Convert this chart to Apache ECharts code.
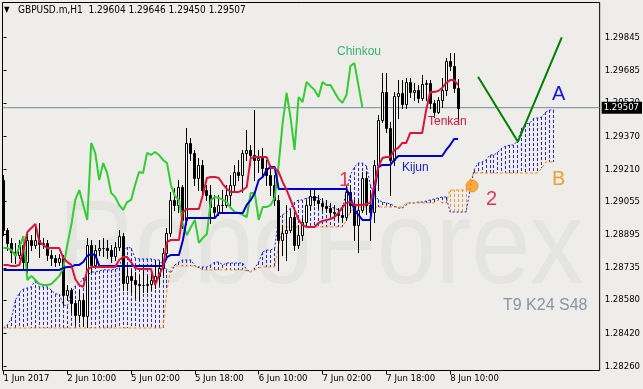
<!DOCTYPE html>
<html><head><meta charset="utf-8">
<script src="https://cdn.jsdelivr.net/npm/echarts@6/dist/echarts.min.js"></script>
<style>html,body{margin:0;padding:0;background:#eeede9;}#c{width:643px;height:389px;}</style>
</head><body><div id="c"></div>
<script>
// ---------------- DATA ----------------
const symbolTitle = 'GBPUSD.m,H1  1.29604 1.29646 1.29450 1.29507';
const xTickLabels = ['1 Jun 2017','2 Jun 10:00','5 Jun 02:00','5 Jun 18:00','6 Jun 10:00','7 Jun 02:00','7 Jun 18:00','8 Jun 10:00'];
const barsPerXTick = 16;
const yTickLabels = ['1.28260','1.28420','1.28580','1.28735','1.28895','1.29055','1.29210','1.29370','1.29530','1.29685','1.29845'];
const lastPrice = 1.29507;

const candleOpen = [
1.29158,1.28917,1.28855,1.28811,1.28797,1.28845,1.28763,1.28869,1.28845,1.28869,
1.28850,1.28855,1.28797,1.28782,1.28763,1.28782,1.28604,1.28628,1.28566,1.28508,
1.28580,1.28503,1.28845,1.28749,1.28821,1.28830,1.28830,1.28821,1.28792,1.28835,
1.28888,1.28662,1.28696,1.28676,1.28657,1.28652,1.28654,1.28657,1.28676,1.28696,
1.28734,1.28807,1.28903,1.29062,1.29038,1.29125,1.28966,1.29337,1.29289,1.29168,
1.29231,1.29110,1.29086,1.29028,1.29004,1.29038,1.29040,1.29086,1.29134,1.29197,
1.29183,1.29289,1.29303,1.29279,1.29255,1.29264,1.29216,1.29183,1.29134,1.29062,
1.28869,1.28903,1.28917,1.28980,1.28845,1.28893,1.28956,1.29038,1.29081,1.29062,
1.29048,1.29033,1.29023,1.29004,1.28999,1.28990,1.28980,1.29101,1.29038,1.28941,
1.29014,1.29168,1.29038,1.29004,1.29231,1.29448,1.29583,1.29409,1.29255,1.29563,
1.29578,1.29525,1.29631,1.29583,1.29592,1.29554,1.29621,1.29626,1.29530,1.29486,
1.29544,1.29592,1.29732,1.29708,1.29604];
const candleHigh = [
1.29183,1.28927,1.28879,1.28855,1.28869,1.28888,1.28908,1.28893,1.28941,1.28951,
1.28879,1.28869,1.28821,1.28797,1.28802,1.28797,1.28652,1.28638,1.28580,1.28628,
1.28604,1.28879,1.28869,1.28845,1.28869,1.28879,1.28869,1.28845,1.28860,1.28917,
1.28903,1.28734,1.28725,1.28715,1.28700,1.28749,1.28696,1.28715,1.28773,1.28763,
1.28830,1.28927,1.29101,1.29120,1.29158,1.29134,1.29409,1.29361,1.29303,1.29264,
1.29255,1.29134,1.29134,1.29086,1.29086,1.29110,1.29134,1.29183,1.29231,1.29255,
1.29303,1.29399,1.29327,1.29496,1.29303,1.29313,1.29255,1.29231,1.29183,1.29086,
1.28941,1.29038,1.29014,1.29004,1.28941,1.28975,1.29062,1.29110,1.29110,1.29086,
1.29072,1.29062,1.29048,1.29038,1.29023,1.29038,1.29130,1.29134,1.29062,1.29062,
1.29197,1.29197,1.29110,1.29255,1.29472,1.29674,1.29674,1.29438,1.29583,1.29640,
1.29640,1.29650,1.29650,1.29626,1.29616,1.29665,1.29640,1.29640,1.29544,1.29558,
1.29650,1.29746,1.29771,1.29771,1.29646];
const candleLow = [
1.28893,1.28821,1.28763,1.28758,1.28782,1.28734,1.28715,1.28821,1.28830,1.28787,
1.28830,1.28773,1.28749,1.28744,1.28749,1.28556,1.28580,1.28522,1.28460,1.28474,
1.28455,1.28450,1.28715,1.28734,1.28797,1.28792,1.28782,1.28763,1.28773,1.28821,
1.28628,1.28628,1.28619,1.28590,1.28580,1.28619,1.28619,1.28628,1.28638,1.28652,
1.28700,1.28792,1.28888,1.29014,1.29004,1.28927,1.28946,1.29255,1.29134,1.29110,
1.29086,1.29062,1.28951,1.28975,1.28990,1.28999,1.29028,1.29038,1.29110,1.29158,
1.29101,1.29255,1.29231,1.29158,1.29197,1.29183,1.29134,1.29086,1.29038,1.28725,
1.28797,1.28773,1.28908,1.28821,1.28830,1.28869,1.28941,1.29014,1.29038,1.29023,
1.29014,1.29004,1.28985,1.28975,1.28966,1.28956,1.28966,1.29004,1.28869,1.28811,
1.29004,1.28995,1.28869,1.28956,1.29110,1.29438,1.29390,1.29086,1.29231,1.29457,
1.29505,1.29505,1.29558,1.29544,1.29534,1.29544,1.29544,1.29505,1.29462,1.29481,
1.29510,1.29568,1.29689,1.29583,1.29450];
const candleClose = [
1.28917,1.28855,1.28811,1.28797,1.28845,1.28763,1.28869,1.28845,1.28869,1.28850,
1.28855,1.28797,1.28782,1.28763,1.28782,1.28604,1.28628,1.28566,1.28508,1.28580,
1.28503,1.28845,1.28749,1.28821,1.28830,1.28832,1.28821,1.28792,1.28835,1.28888,
1.28662,1.28696,1.28676,1.28657,1.28652,1.28654,1.28657,1.28676,1.28696,1.28734,
1.28807,1.28903,1.29062,1.29038,1.29125,1.28966,1.29337,1.29289,1.29168,1.29231,
1.29110,1.29086,1.29028,1.29004,1.29038,1.29040,1.29086,1.29134,1.29197,1.29183,
1.29289,1.29303,1.29279,1.29255,1.29264,1.29216,1.29183,1.29134,1.29062,1.28869,
1.28903,1.28917,1.28980,1.28845,1.28893,1.28956,1.29038,1.29081,1.29062,1.29048,
1.29033,1.29023,1.29004,1.28999,1.28990,1.28980,1.29101,1.29038,1.28941,1.29014,
1.29168,1.29038,1.29004,1.29231,1.29448,1.29583,1.29409,1.29255,1.29563,1.29578,
1.29525,1.29631,1.29583,1.29592,1.29554,1.29621,1.29626,1.29530,1.29486,1.29544,
1.29592,1.29732,1.29708,1.29604,1.29507];

const tenkan = [
1.28749,1.28749,1.28744,1.28744,1.28749,1.28821,1.28908,1.28927,1.28946,1.28860,
1.28845,1.28830,1.28830,1.28830,1.28830,1.28782,1.28763,1.28749,1.28681,1.28652,
1.28643,1.28725,1.28739,1.28739,1.28739,1.28739,1.28739,1.28739,1.28739,1.28773,
1.28787,1.28787,1.28763,1.28734,1.28729,1.28729,1.28729,1.28729,1.28652,1.28700,
1.28739,1.28860,1.28869,1.28869,1.28869,1.29004,1.29019,1.29019,1.29019,1.29019,
1.29086,1.29168,1.29173,1.29173,1.29168,1.29139,1.29115,1.29101,1.29101,1.29101,
1.29110,1.29125,1.29264,1.29269,1.29269,1.29269,1.29269,1.29216,1.29216,1.29197,
1.29149,1.29110,1.29062,1.29014,1.28966,1.28941,1.28932,1.28932,1.28932,1.28951,
1.28961,1.28966,1.28970,1.28980,1.28999,1.29028,1.29048,1.29052,1.29038,1.29038,
1.29038,1.29043,1.29048,1.29134,1.29221,1.29264,1.29269,1.29269,1.29303,1.29313,
1.29337,1.29337,1.29385,1.29385,1.29385,1.29385,1.29496,1.29583,1.29583,1.29587,
1.29602,1.29626,1.29640,1.29640,1.29616];
const kijun = [
1.28725,1.28725,1.28725,1.28725,1.28725,1.28725,1.28725,1.28725,1.28725,1.28725,
1.28725,1.28725,1.28725,1.28725,1.28725,1.28734,1.28739,1.28739,1.28749,1.28749,
1.28763,1.28792,1.28802,1.28797,1.28744,1.28744,1.28744,1.28744,1.28744,1.28744,
1.28744,1.28744,1.28744,1.28744,1.28744,1.28744,1.28744,1.28744,1.28744,1.28744,
1.28744,1.28787,1.28797,1.28797,1.28797,1.28869,1.28975,1.28975,1.28975,1.28975,
1.28975,1.28975,1.28975,1.28975,1.28999,1.28999,1.28999,1.28999,1.28999,1.28999,
1.28999,1.29038,1.29062,1.29096,1.29158,1.29173,1.29207,1.29221,1.29221,1.29115,
1.29115,1.29115,1.29115,1.29115,1.29115,1.29115,1.29115,1.29115,1.29115,1.29115,
1.29115,1.29115,1.29115,1.29115,1.29115,1.29115,1.29115,1.29076,1.29014,1.28990,
1.28966,1.28966,1.28966,1.29110,1.29221,1.29231,1.29231,1.29231,1.29255,1.29274,
1.29274,1.29274,1.29274,1.29274,1.29274,1.29274,1.29274,1.29274,1.29274,1.29274,
1.29274,1.29303,1.29327,1.29356,1.29356];
const chinkou = [
1.28830,1.28830,1.28821,1.28792,1.28835,1.28888,1.28676,1.28696,1.28676,1.28657,
1.28652,1.28652,1.28657,1.28676,1.28696,1.28734,1.28845,1.28941,1.29062,1.29110,
1.29038,1.28966,1.29337,1.29289,1.29158,1.29240,1.29192,1.29096,1.29076,1.29038,
1.29014,1.29052,1.29062,1.29134,1.29197,1.29192,1.29289,1.29279,1.29293,1.29279,
1.29255,1.29240,1.29134,1.29081,1.29062,1.28941,1.28893,1.28932,1.28966,1.28855,
1.28879,1.28898,1.29062,1.29076,1.29072,1.29062,1.29052,1.29023,1.29004,1.28999,
1.28990,1.28980,1.29096,1.29096,1.28966,1.29028,1.29028,1.29038,1.29072,1.29231,
1.29433,1.29578,1.29457,1.29303,1.29558,1.29534,1.29631,1.29611,1.29592,1.29558,
1.29631,1.29616,1.29616,1.29583,1.29549,1.29530,1.29568,1.29708,1.29722,1.29616,1.29507];
const senkouA = [
1.28445,1.28460,1.28493,1.28580,1.28614,1.28633,1.28638,1.28643,1.28676,1.28643,
1.28643,1.28643,1.28628,1.28609,1.28609,1.28556,1.28551,1.28614,1.28648,1.28657,
1.28686,1.28696,1.28715,1.28715,1.28720,1.28725,1.28725,1.28725,1.28729,1.28734,
1.28811,1.28835,1.28830,1.28782,1.28778,1.28778,1.28778,1.28778,1.28773,1.28773,
1.28749,1.28725,1.28710,1.28749,1.28763,1.28773,1.28773,1.28773,1.28744,1.28739,
1.28739,1.28739,1.28749,1.28763,1.28763,1.28749,1.28758,1.28758,1.28758,1.28758,
1.28758,1.28725,1.28715,1.28734,1.28763,1.28811,1.28821,1.28821,1.28830,1.28975,
1.28990,1.29004,1.29023,1.29052,1.29062,1.29062,1.29072,1.29072,1.29076,1.29072,
1.29057,1.29038,1.29028,1.29023,1.29014,1.29014,1.29110,1.29183,1.29221,1.29240,
1.29240,1.29226,1.29134,1.29091,1.29062,1.29052,1.29048,1.29043,1.29033,1.29023,
1.29023,1.29038,1.29048,1.29048,1.29052,1.29052,1.29057,1.29062,1.29067,1.29072,
1.29076,1.29076,1.29004,1.29004,1.29004,1.29004,1.29004,1.29110,1.29207,1.29240,
1.29245,1.29255,1.29279,1.29279,1.29293,1.29313,1.29322,1.29327,1.29327,1.29351,
1.29409,1.29428,1.29433,1.29457,1.29457,1.29462,1.29486,1.29496,1.29496];
const senkouB = [
1.28445,1.28445,1.28445,1.28445,1.28445,1.28445,1.28445,1.28445,1.28445,1.28445,
1.28445,1.28445,1.28445,1.28445,1.28445,1.28445,1.28445,1.28445,1.28445,1.28445,
1.28445,1.28445,1.28445,1.28445,1.28445,1.28445,1.28445,1.28445,1.28445,1.28445,
1.28445,1.28445,1.28445,1.28445,1.28445,1.28445,1.28445,1.28445,1.28445,1.28445,
1.28445,1.28628,1.28734,1.28744,1.28744,1.28744,1.28744,1.28744,1.28744,1.28734,
1.28725,1.28725,1.28725,1.28725,1.28725,1.28725,1.28725,1.28725,1.28725,1.28725,
1.28725,1.28720,1.28715,1.28725,1.28734,1.28739,1.28739,1.28739,1.28739,1.28845,
1.28932,1.28932,1.28932,1.28932,1.28932,1.28932,1.28932,1.28932,1.28932,1.28932,
1.28932,1.28932,1.28932,1.28932,1.28932,1.28932,1.28966,1.29004,1.29028,1.29028,
1.29028,1.29028,1.29028,1.29028,1.29028,1.29028,1.29028,1.29028,1.29028,1.29028,
1.29028,1.29048,1.29048,1.29048,1.29048,1.29048,1.29048,1.29048,1.29048,1.29062,
1.29048,1.29048,1.29110,1.29110,1.29110,1.29110,1.29110,1.29158,1.29192,1.29192,
1.29192,1.29192,1.29192,1.29192,1.29192,1.29192,1.29192,1.29192,1.29192,1.29192,
1.29192,1.29192,1.29192,1.29192,1.29192,1.29216,1.29245,1.29245,1.29245];

// forecast "V" and signal point
const forecastBar = [119, 129, 140];
const forecastPrice = [1.29656, 1.29343, 1.29846];
const signalBar = [117.5];
const signalPrice = [1.29130];

// ---------------- CHART ----------------
const FONT = "'DejaVu Sans Condensed','Liberation Sans Narrow','Liberation Sans',Arial,sans-serif";
const ARIAL = "'Liberation Sans',Arial,sans-serif";
const yMin = 1.28240, yMax = 1.30014;
const xMin = -0.25, xMax = 149.5;
const xTickPos = xTickLabels.map((_, k) => k * barsPerXTick);
const yTickVals = yTickLabels.map(Number);

const candleData = candleOpen.map((o, i) => [i, o, candleClose[i], candleLow[i], candleHigh[i]]);
const cloudData = senkouA.map((a, i) => [i, a, senkouB[i]]);
const pairs = arr => arr.map((v, i) => [i, v]);

const chart = echarts.init(document.getElementById('c'), null, {renderer: 'canvas'});

function txt(text, x, y, size, color, font, extra) {
  return Object.assign({type: 'text', silent: true, z: 50,
    style: {text, x, y, fill: color, font: size + 'px ' + (font || ARIAL), textVerticalAlign: 'middle'}}, extra || {});
}

const option = {
  backgroundColor: '#eeede9',
  animation: false,
  grid: {left: 2.5, right: 41.5, top: 2.5, bottom: 18.5, show: true, borderColor: '#000', borderWidth: 1, backgroundColor: 'transparent'},
  xAxis: {
    type: 'value', min: xMin, max: xMax,
    axisLine: {show: false}, splitLine: {show: false},
    axisTick: {show: true, customValues: xTickPos, length: 4, lineStyle: {color: '#000'}},
    axisLabel: {customValues: xTickPos, align: 'left', margin: 3, fontSize: 9.5, fontFamily: FONT, color: '#000',
      formatter: v => xTickLabels[xTickPos.indexOf(Math.round(v))] || ''}
  },
  yAxis: {
    type: 'value', position: 'right', min: yMin, max: yMax,
    axisLine: {show: false}, splitLine: {show: false},
    axisTick: {show: true, customValues: yTickVals, length: 3, lineStyle: {color: '#000'}},
    axisLabel: {customValues: yTickVals, margin: 5, fontSize: 9.5, fontFamily: FONT, color: '#000',
      formatter: v => { const s = yTickLabels.find(t => Math.abs(Number(t) - v) < 1e-7); return s || ''; }}
  },
  graphic: [
    {type: 'text', silent: true, z: -10, style: {text: 'RoboForex', x: 58, y: 250, fill: '#e4e4e0', font: '118px ' + ARIAL, textVerticalAlign: 'middle'}, scaleX: 0.9, originX: 58},
    txt('\u25BC', 4, 10, 8, '#000', FONT),
    txt(symbolTitle, 18, 10, 10, '#000', FONT),
    txt('T9 K24 S48', 503, 306, 16, '#8596aa'),
    txt('Chinkou', 337, 52, 12, '#3cb371'),
    txt('Tenkan', 428, 122, 12, '#dc143c'),
    txt('Kijun', 402, 168, 12, '#1a1ad0'),
    txt('1', 339, 180, 20, '#e3365a'),
    txt('2', 486, 199, 20, '#e3365a'),
    txt('A', 552, 94, 20, '#1515e8'),
    txt('B', 552, 179, 20, '#e8a22e')
  ],
  series: [
    { // kumo hatch
      type: 'custom', z: 1, silent: true, data: cloudData,
      renderItem: (params, api) => {
        const i = api.value(0), a = api.value(1), b = api.value(2);
        const pa = api.coord([i, a]), pb = api.coord([i, b]);
        const x = Math.floor(pa[0]) + 0.5;
        return {type: 'line', shape: {x1: x, y1: pa[1], x2: x, y2: pb[1]},
          style: {stroke: a >= b ? '#2323e0' : '#f59a3c', lineWidth: 1, lineDash: [3, 2]}};
      }
    },
    {type: 'line', z: 2, silent: true, data: pairs(senkouA), symbol: 'none', lineStyle: {color: '#2323e0', width: 1, type: [2, 2]}},
    {type: 'line', z: 2, silent: true, data: pairs(senkouB), symbol: 'none', lineStyle: {color: '#ff8c00', width: 1, type: [3, 2]}},
    { // current price line
      type: 'line', z: 2, silent: true, symbol: 'none', clip: false,
      data: [[xMin, lastPrice], [xMax, lastPrice]],
      lineStyle: {color: '#7889a0', width: 1},
      endLabel: {show: true, distance: 2, formatter: () => lastPrice.toFixed(5), backgroundColor: '#000', color: '#fff',
        fontSize: 9.5, fontFamily: FONT, padding: [1, 3, 1, 2]}
    },
    { // candles
      type: 'custom', z: 3, silent: true, data: candleData,
      renderItem: (params, api) => {
        const i = api.value(0), o = api.value(1), c = api.value(2), l = api.value(3), h = api.value(4);
        const po = api.coord([i, o]);
        const x = Math.floor(po[0]);
        const yo = Math.round(po[1]), yc = Math.round(api.coord([i, c])[1]);
        const yh = Math.round(api.coord([i, h])[1]), yl = Math.round(api.coord([i, l])[1]);
        const top = Math.min(yo, yc), bot = Math.max(yo, yc);
        const bull = c >= o;
        return {type: 'group', children: [
          {type: 'line', shape: {x1: x + 0.5, y1: yh, x2: x + 0.5, y2: yl + 1}, style: {stroke: '#000', lineWidth: 1}},
          {type: 'rect', shape: {x: x - 0.5, y: top + 0.5, width: 2, height: Math.max(bot - top, 0)},
            style: {fill: bull ? '#ffffff' : '#000000', stroke: '#000', lineWidth: 1}}
        ]};
      }
    },
    {type: 'line', z: 4, silent: true, data: pairs(chinkou), symbol: 'none', lineStyle: {color: '#32cd32', width: 2}},
    {type: 'line', z: 4, silent: true, data: pairs(kijun), symbol: 'none', lineStyle: {color: '#0000cd', width: 2}},
    {type: 'line', z: 5, silent: true, data: pairs(tenkan), symbol: 'none', lineStyle: {color: '#dc143c', width: 2}},
    {type: 'line', z: 6, silent: true, data: forecastBar.map((b, k) => [b, forecastPrice[k]]), symbol: 'none', lineStyle: {color: '#008000', width: 2}},
    {type: 'scatter', z: 3, silent: true, data: signalBar.map((b, k) => [b, signalPrice[k]]), symbolSize: 12,
      itemStyle: {color: '#ff9a1a', borderColor: '#f08a00', borderWidth: 1}}
  ]
};
chart.setOption(option);
</script>
</body></html>
